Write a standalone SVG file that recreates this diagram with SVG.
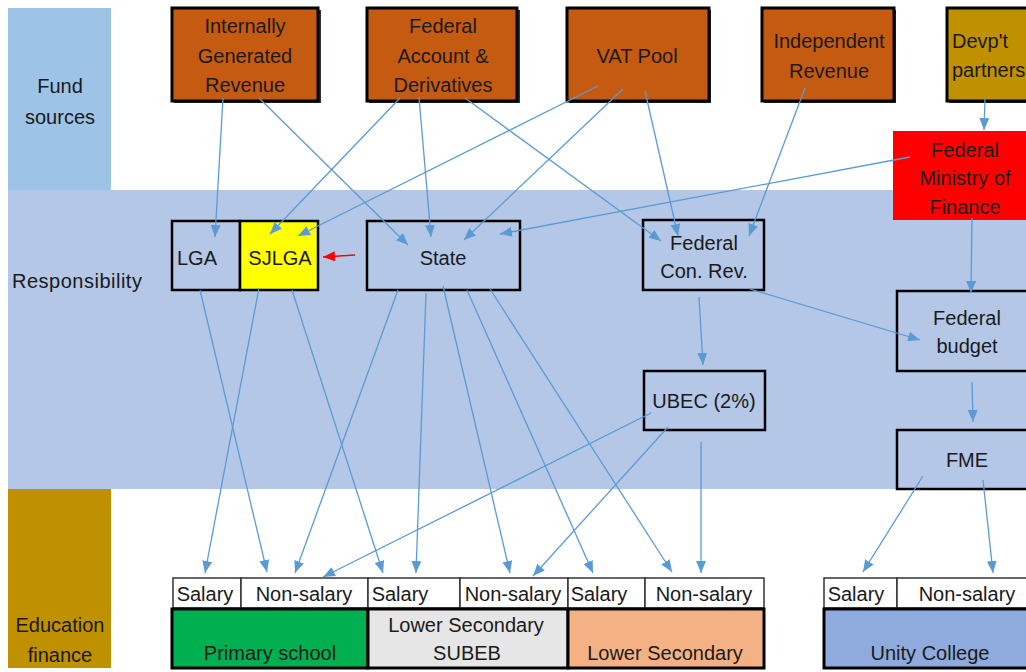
<svg xmlns="http://www.w3.org/2000/svg" width="1026" height="672" viewBox="0 0 1026 672">
<style>
text{font-family:"Liberation Sans",Arial,sans-serif;font-size:20px;fill:#1a1a1a}
.c{text-anchor:middle}
.src{fill:#c55a11;stroke:#000;stroke-width:3}
.sh{fill:#333}
.box{fill:none;stroke:#000;stroke-width:2.5}
.cell{fill:#fff;stroke:#333;stroke-width:1.5}
.edu{stroke:#000;stroke-width:3}
.ln{fill:none;stroke:#5b9bd5;stroke-width:1.3}
.red{fill:none;stroke:#ff0000;stroke-width:1.3}
</style>
<defs>
<marker id="ah" markerUnits="userSpaceOnUse" markerWidth="12" markerHeight="10" viewBox="0 0 12 10" refX="12" refY="5" orient="auto"><path d="M0,0 L12,5 L0,10 z" fill="#5b9bd5"/></marker>
<marker id="ahr" markerUnits="userSpaceOnUse" markerWidth="12" markerHeight="10" viewBox="0 0 12 10" refX="12" refY="5" orient="auto"><path d="M0,0 L12,5 L0,10 z" fill="#ff0000"/></marker>
</defs>
<rect width="1026" height="672" fill="#fff"/>
<g id="bands">
<rect x="8" y="8" width="103" height="182" fill="#9dc3e6"/>
<rect x="8" y="190" width="1018" height="299" fill="#b4c7e7"/>
<rect x="8" y="489" width="103" height="179" fill="#bf9000"/>
<text class="c" x="60" y="93">Fund</text>
<text class="c" x="60" y="124">sources</text>
<text x="12" y="288" style="letter-spacing:0.5px">Responsibility</text>
<text class="c" x="60" y="632">Education</text>
<text class="c" x="60" y="662">finance</text>
</g>
<g id="igr">
<rect class="sh" x="174" y="10" width="147" height="93"/>
<rect class="src" x="172" y="8" width="146" height="93"/>
<text class="c" x="245" y="33">Internally</text>
<text class="c" x="245" y="63">Generated</text>
<text class="c" x="245" y="92">Revenue</text>
</g>
<g id="fad">
<rect class="sh" x="369" y="10" width="151" height="93"/>
<rect class="src" x="367" y="8" width="150" height="93"/>
<text class="c" x="443" y="33">Federal</text>
<text class="c" x="443" y="63">Account &amp;</text>
<text class="c" x="443" y="92">Derivatives</text>
</g>
<g id="vat">
<rect class="sh" x="569" y="10" width="142" height="93"/>
<rect class="src" x="567" y="8" width="142" height="93"/>
<text class="c" x="637" y="63">VAT Pool</text>
</g>
<g id="indrev">
<rect class="sh" x="764" y="10" width="132" height="93"/>
<rect class="src" x="762" y="8" width="132" height="93"/>
<text class="c" x="829" y="48">Independent</text>
<text class="c" x="829" y="78">Revenue</text>
</g>
<g id="devp">
<rect class="sh" x="949" y="10" width="80" height="93"/>
<rect x="947" y="8" width="82" height="93" fill="#bf9000" stroke="#000" stroke-width="3"/>
<text x="952" y="48">Devp't</text>
<text x="952" y="77">partners</text>
</g>
<g id="fmof">
<rect x="893" y="131" width="133" height="89" fill="#ff0000"/>
<text class="c" x="965" y="157">Federal</text>
<text class="c" x="965" y="185">Ministry of</text>
<text class="c" x="965" y="214">Finance</text>
</g>
<g id="lga">
<rect class="box" x="172" y="221" width="68" height="69"/>
<text x="177" y="265">LGA</text>
</g>
<g id="sjlga">
<rect x="240" y="221" width="78" height="69" fill="#ffff00" stroke="#000" stroke-width="2.5"/>
<text class="c" x="280" y="265">SJLGA</text>
</g>
<g id="state">
<rect class="box" x="367" y="221" width="153" height="69"/>
<text class="c" x="443" y="265">State</text>
</g>
<g id="fcr">
<rect class="box" x="643" y="220" width="121" height="70"/>
<text class="c" x="704" y="250">Federal</text>
<text class="c" x="704" y="278">Con. Rev.</text>
</g>
<g id="ubec">
<rect class="box" x="644" y="371" width="121" height="59"/>
<text class="c" x="704" y="408">UBEC (2%)</text>
</g>
<g id="fbudget">
<rect class="box" x="897" y="291" width="131" height="80"/>
<text class="c" x="967" y="325">Federal</text>
<text class="c" x="967" y="353">budget</text>
</g>
<g id="fme">
<rect class="box" x="897" y="430" width="131" height="59"/>
<text class="c" x="967" y="467">FME</text>
</g>
<g id="primary">
<rect class="cell" x="173" y="578" width="68" height="30"/>
<rect class="cell" x="241" y="578" width="127" height="30"/>
<text class="c" x="205" y="601">Salary</text>
<text class="c" x="304" y="601">Non-salary</text>
<rect class="edu" x="172" y="609" width="196" height="59" fill="#00b050"/>
<text class="c" x="270" y="660">Primary school</text>
</g>
<g id="subeb">
<rect class="cell" x="368" y="578" width="92" height="30"/>
<rect class="cell" x="460" y="578" width="108" height="30"/>
<text class="c" x="400" y="601">Salary</text>
<text class="c" x="513" y="601">Non-salary</text>
<rect class="edu" x="368" y="609" width="200" height="59" fill="#e7e6e6"/>
<text class="c" x="466" y="632">Lower Secondary</text>
<text class="c" x="467" y="660">SUBEB</text>
</g>
<g id="lowersec">
<rect class="cell" x="568" y="578" width="77" height="30"/>
<rect class="cell" x="645" y="578" width="119" height="30"/>
<text class="c" x="599" y="601">Salary</text>
<text class="c" x="704" y="601">Non-salary</text>
<rect class="edu" x="568" y="609" width="196" height="59" fill="#f4b183"/>
<text class="c" x="665" y="660">Lower Secondary</text>
</g>
<g id="unity">
<rect class="cell" x="824" y="578" width="73" height="30"/>
<rect class="cell" x="897" y="578" width="131" height="30"/>
<text class="c" x="856" y="601">Salary</text>
<text class="c" x="967" y="601">Non-salary</text>
<rect class="edu" x="824" y="609" width="204" height="59" fill="#8faadc"/>
<text class="c" x="930" y="660">Unity College</text>
</g>
<g id="connectors">
<line class="ln" x1="223" y1="98" x2="215" y2="237" marker-end="url(#ah)"/>
<line class="ln" x1="259" y1="98" x2="408" y2="245" marker-end="url(#ah)"/>
<line class="ln" x1="400" y1="98" x2="270" y2="234" marker-end="url(#ah)"/>
<line class="ln" x1="419" y1="97" x2="431" y2="237" marker-end="url(#ah)"/>
<line class="ln" x1="465" y1="98" x2="661" y2="241" marker-end="url(#ah)"/>
<line class="ln" x1="598" y1="86" x2="298" y2="236" marker-end="url(#ah)"/>
<line class="ln" x1="623" y1="89" x2="464" y2="240" marker-end="url(#ah)"/>
<line class="ln" x1="645" y1="91" x2="678" y2="236" marker-end="url(#ah)"/>
<line class="ln" x1="805" y1="88" x2="749" y2="236" marker-end="url(#ah)"/>
<line class="ln" x1="985" y1="98" x2="984" y2="130" marker-end="url(#ah)"/>
<line class="ln" x1="910" y1="157" x2="500" y2="234" marker-end="url(#ah)"/>
<line class="ln" x1="972" y1="218" x2="971" y2="293" marker-end="url(#ah)"/>
<line class="ln" x1="750" y1="289" x2="920" y2="340" marker-end="url(#ah)"/>
<line class="ln" x1="699" y1="297" x2="703" y2="365" marker-end="url(#ah)"/>
<line class="ln" x1="972" y1="382" x2="973" y2="422" marker-end="url(#ah)"/>
<line class="red" x1="355" y1="255" x2="323" y2="257" marker-end="url(#ahr)"/>
<line class="ln" x1="200" y1="290" x2="267" y2="572" marker-end="url(#ah)"/>
<line class="ln" x1="259" y1="288" x2="205" y2="573" marker-end="url(#ah)"/>
<line class="ln" x1="292" y1="290" x2="383" y2="573" marker-end="url(#ah)"/>
<line class="ln" x1="398" y1="290" x2="295" y2="573" marker-end="url(#ah)"/>
<line class="ln" x1="426" y1="293" x2="416" y2="573" marker-end="url(#ah)"/>
<line class="ln" x1="443" y1="286" x2="510" y2="573" marker-end="url(#ah)"/>
<line class="ln" x1="467" y1="290" x2="593" y2="573" marker-end="url(#ah)"/>
<line class="ln" x1="490" y1="289" x2="672" y2="572" marker-end="url(#ah)"/>
<line class="ln" x1="651" y1="413" x2="323" y2="577" marker-end="url(#ah)"/>
<line class="ln" x1="668" y1="427" x2="533" y2="576" marker-end="url(#ah)"/>
<line class="ln" x1="701" y1="442" x2="701" y2="573" marker-end="url(#ah)"/>
<line class="ln" x1="923" y1="476" x2="863" y2="572" marker-end="url(#ah)"/>
<line class="ln" x1="983" y1="480" x2="993" y2="573" marker-end="url(#ah)"/>
</g>
</svg>
